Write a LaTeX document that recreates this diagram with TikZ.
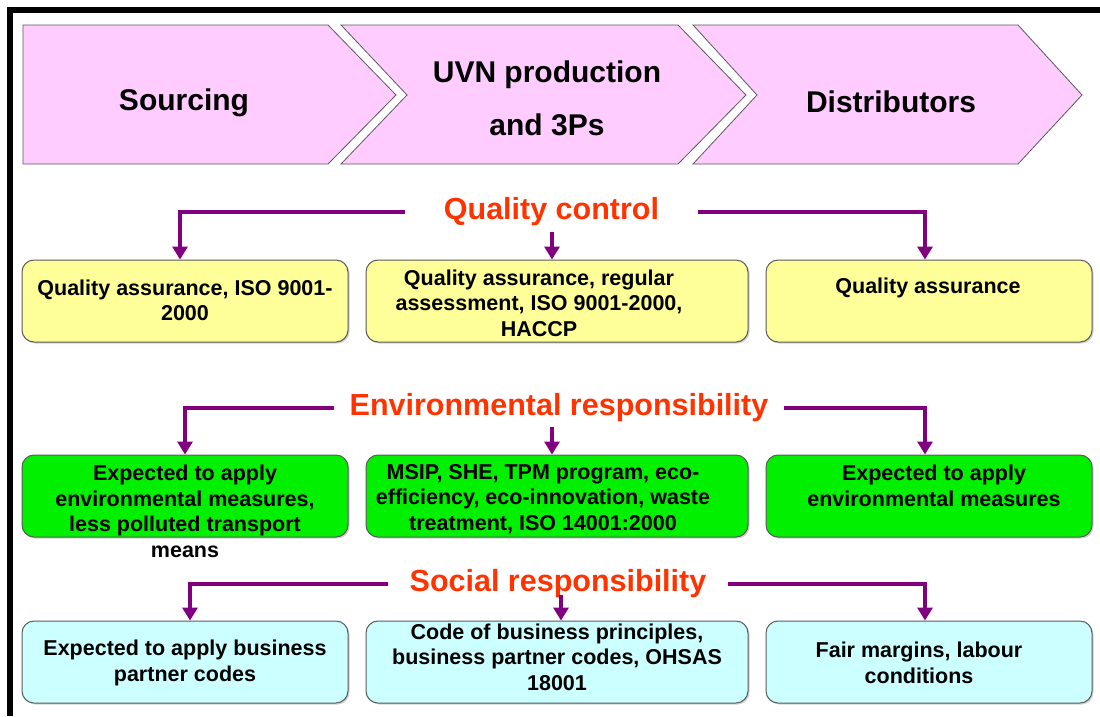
\documentclass[tikz,border=0pt]{standalone}
\usepackage{fontspec}
\setmainfont{Liberation Sans}
\usetikzlibrary{arrows.meta,shadows}
\definecolor{pinkfill}{RGB}{255,204,255}
\definecolor{qyellow}{RGB}{255,255,153}
\definecolor{egreen}{RGB}{0,240,0}
\definecolor{scyan}{RGB}{204,255,255}
\definecolor{hdred}{RGB}{255,51,0}
\definecolor{conpurple}{RGB}{128,0,128}
\definecolor{edgegray}{RGB}{90,90,90}
\tikzset{
  chev/.style={fill=pinkfill, draw=edgegray, line width=0.8pt, line join=miter},
  chevtext/.style={font=\fontsize{30}{53}\selectfont\bfseries, align=center, inner sep=0pt},
  infobox/.style={rounded corners=12pt, draw=edgegray, line width=1pt, minimum height=82pt, inner sep=0pt,
    drop shadow={shadow xshift=1.5pt, shadow yshift=-1.5pt, opacity=0.35}},
  boxtext/.style={font=\fontsize{21.5}{25.5}\selectfont\bfseries, align=center, inner sep=0pt},
  header/.style={font=\fontsize{30.5}{36}\selectfont\bfseries, text=hdred, inner ysep=0pt},
  conn/.style={draw=conpurple, line width=4pt, -{Triangle[width=15pt,length=13pt]}}
}
\begin{document}
\begin{tikzpicture}[x=1pt,y=-1pt]
\useasboundingbox (0,0) rectangle (1100,716);
\fill[white] (0,0) rectangle (1100,716);
% frame
\fill[black] (7,7) rectangle (1100,13);
\fill[black] (7,7) rectangle (13,716);

% chevrons
\draw[chev] (23,25) -- (328,25) -- (396,95) -- (328,164) -- (23,164) -- cycle;
\draw[chev] (341,25) -- (678,25) -- (746,95) -- (678,164) -- (341,164) -- (407,95) -- cycle;
\draw[chev] (693,25) -- (1018,25) -- (1082,95) -- (1018,164) -- (693,164) -- (757,95) -- cycle;
\node[chevtext] (src) at (184,102.4) {Sourcing};
\node[chevtext] (uvn) at (547,98.7) {UVN production\\and 3Ps};
\node[chevtext] (dst) at (891,102) {Distributors};

% headers
\node[header, inner xsep=39pt] (qc) at (551.5,212) {Quality control};
\node[header, inner xsep=15pt] (er) at (559,408) {Environmental responsibility};
\node[header, inner xsep=21pt] (sr) at (558,584) {Social responsibility};

% boxes row 1
\node[infobox, fill=qyellow, minimum width=326pt] (q1) at (185,301) {};
\node[infobox, fill=qyellow, minimum width=382pt] (q2) at (557,301) {};
\node[infobox, fill=qyellow, minimum width=326pt] (q3) at (929,301) {};
% boxes row 2
\node[infobox, fill=egreen, minimum width=326pt] (e1) at (185,496) {};
\node[infobox, fill=egreen, minimum width=382pt] (e2) at (557,496) {};
\node[infobox, fill=egreen, minimum width=326pt] (e3) at (929,496) {};
% boxes row 3
\node[infobox, fill=scyan, minimum width=326pt] (s1) at (185,662) {};
\node[infobox, fill=scyan, minimum width=382pt] (s2) at (557,662) {};
\node[infobox, fill=scyan, minimum width=326pt] (s3) at (929,662) {};

% texts
\node[boxtext] (q1t) at (185,300.5) {Quality assurance, ISO 9001-\\2000};
\node[boxtext] (q2t) at (539,303) {Quality assurance, regular\\assessment, ISO 9001-2000,\\HACCP};
\node[boxtext] (q3t) at (928,288) {Quality assurance};
\node[boxtext] (e1t) at (185,511.5) {Expected to apply\\environmental measures,\\less polluted transport\\means};
\node[boxtext] (e2t) at (543,499) {MSIP, SHE, TPM program, eco-\\efficiency, eco-innovation, waste\\treatment, ISO 14001:2000};
\node[boxtext] (e3t) at (934,486) {Expected to apply\\environmental measures};
\node[boxtext] (s1t) at (185,663) {Expected to apply business\\partner codes};
\node[boxtext] (s2t) at (557,657) {Code of business principles,\\business partner codes, OHSAS\\18001};
\node[boxtext] (s3t) at (919,663) {Fair margins, labour\\conditions};

% connectors
\coordinate (qm) at (552,232);
\coordinate (em) at (552,427);
\coordinate (sm) at (561,595);
\draw[conn] (qc.west) -| ([xshift=-5pt]q1.north);
\draw[conn] (qc.east) -| ([xshift=-4pt]q3.north);
\draw[conn] (qm) -- (qm |- q2.north);
\draw[conn] (er.west) -| (e1.north);
\draw[conn] (er.east) -| ([xshift=-4pt]e3.north);
\draw[conn] (em) -- (em |- e2.north);
\draw[conn] (sr.west) -| ([xshift=5pt]s1.north);
\draw[conn] (sr.east) -| ([xshift=-4pt]s3.north);
\draw[conn] (sm) -- (sm |- s2.north);
\end{tikzpicture}
\end{document}
